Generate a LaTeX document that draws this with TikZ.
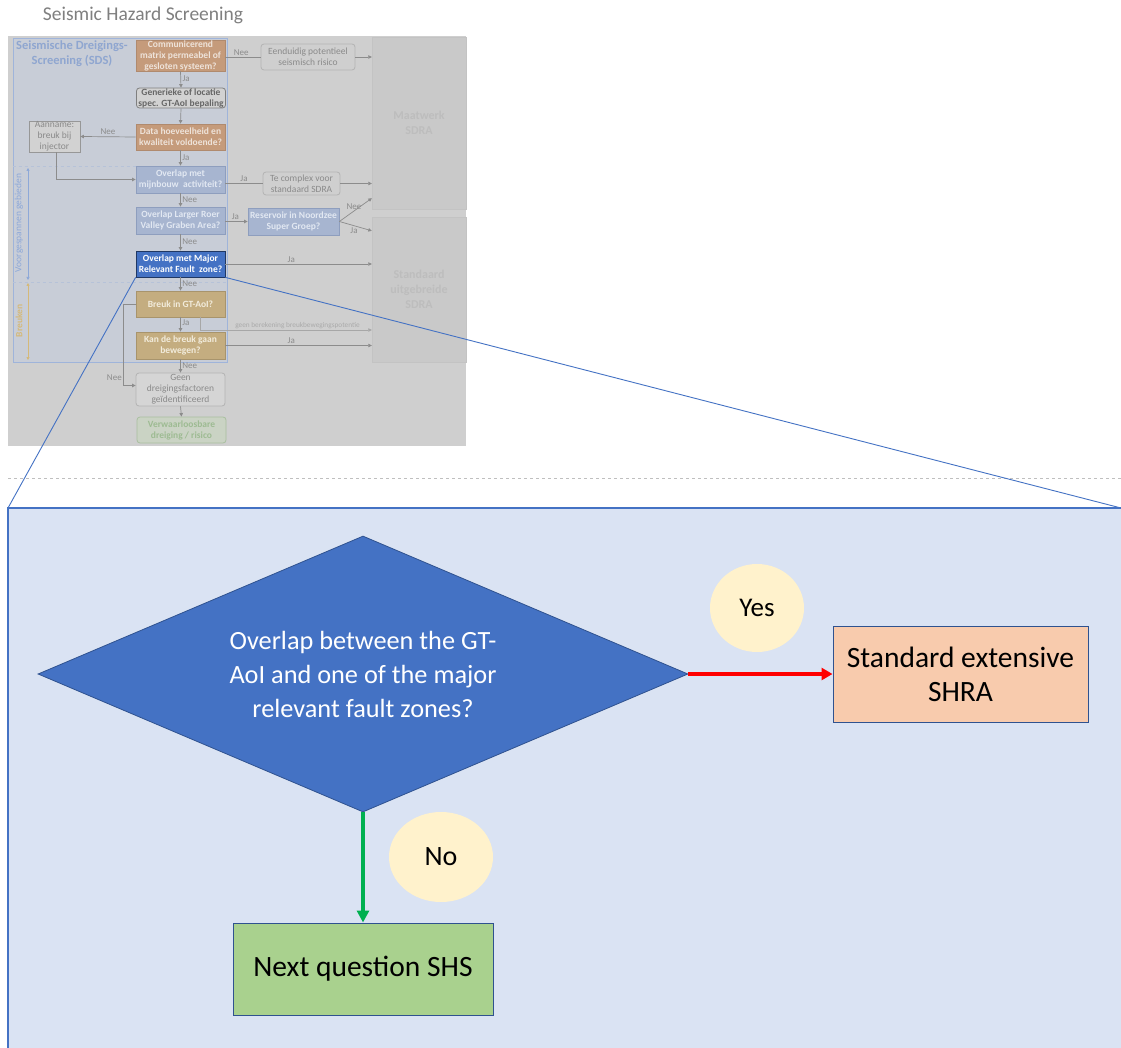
\documentclass[tikz,border=0pt]{standalone}
\usepackage{fontspec}
\setmainfont{Carlito}
\usetikzlibrary{shapes.geometric,arrows.meta}

% font size helper (size, baselineskip in pt)
\newcommand{\setfs}[2]{\fontsize{#1}{#2}\selectfont}

% overview panel colours (muted)
\definecolor{titlegray}{HTML}{7F7F7F}
\definecolor{thbg}{HTML}{CFCFCF}
\definecolor{sdsfill}{HTML}{C8CDD7}
\definecolor{sdsborder}{HTML}{9FB4DA}
\definecolor{sdstext}{HTML}{8FA6D0}
\definecolor{orfill}{HTML}{C59B7B}
\definecolor{orborder}{HTML}{B08A6E}
\definecolor{ortext}{HTML}{EEE3DA}
\definecolor{gbfill}{HTML}{D2D2D2}
\definecolor{gbborder}{HTML}{7F7F7F}
\definecolor{gbtext}{HTML}{666666}
\definecolor{bgfill}{HTML}{A7B5D0}
\definecolor{bgborder}{HTML}{8E9EBE}
\definecolor{bgtext}{HTML}{E2E8F2}
\definecolor{hlfill}{HTML}{4472C4}
\definecolor{hlborder}{HTML}{203864}
\definecolor{tanfill}{HTML}{C4AD80}
\definecolor{tanborder}{HTML}{A8946C}
\definecolor{tantext}{HTML}{F2ECDC}
\definecolor{ltfill}{HTML}{D5D5D5}
\definecolor{ltborder}{HTML}{B3B3B3}
\definecolor{lttext}{HTML}{8A8A8A}
\definecolor{grfill}{HTML}{CAD3C4}
\definecolor{grborder}{HTML}{A9BF9F}
\definecolor{grtext}{HTML}{9DBB92}
\definecolor{outfill}{HTML}{C9C9C9}
\definecolor{outborder}{HTML}{C3C3C3}
\definecolor{outtext}{HTML}{BDBDBD}
\definecolor{conngray}{HTML}{8C8C8C}
\definecolor{voorcol}{HTML}{8DA8D8}
\definecolor{breukcol}{HTML}{D5B979}
% detail panel colours
\definecolor{bigfill}{HTML}{DAE3F3}
\definecolor{bigborder}{HTML}{4472C4}
\definecolor{darkedge}{HTML}{2F528F}
\definecolor{yesfill}{HTML}{FFF2CC}
\definecolor{shrafill}{HTML}{F8CBAD}
\definecolor{nextfill}{HTML}{A9D18E}
\definecolor{noarrow}{HTML}{00B050}

\begin{document}
\begin{tikzpicture}[x=1pt,y=-1pt,
  tbox/.style={draw, line width=0.8pt, inner sep=0pt, align=center,
    minimum width=89pt, font=\setfs{9.5}{11}\bfseries},
  orbox/.style={tbox, fill=orfill, draw=orborder, text=ortext},
  bgbox/.style={tbox, fill=bgfill, draw=bgborder, text=bgtext},
  tanbox/.style={tbox, fill=tanfill, draw=tanborder, text=tantext},
  rbox/.style={tbox, rounded corners=3pt},
  outbox/.style={draw=outborder, fill=outfill, text=outtext, inner sep=0pt,
    align=center, font=\setfs{12}{15}\bfseries},
  conn/.style={draw=conngray, line width=0.7pt},
  arr/.style={conn, -{Triangle[length=3.5pt,width=3.5pt]}},
  lbl/.style={text=conngray, font=\setfs{9}{10}, inner sep=1.5pt},
  zoomline/.style={draw=bigborder, line width=0.9pt},
  bigbox/.style={draw=darkedge, line width=1pt, inner sep=0pt, align=center,
    font=\setfs{29.5}{34}},
  bubble/.style={ellipse, fill=yesfill, inner sep=0pt},
]
\useasboundingbox (0,0) rectangle (1121,1048);
\fill[white] (0,0) rectangle (1121,1048);

% ---------------- overview panel ----------------
\node (title) [text=titlegray, font=\setfs{19.5}{23}] at (143,15) {Seismic Hazard Screening};

\node (thumb) [fill=thbg, minimum width=458pt, minimum height=410pt, inner sep=0pt] at (237,241) {};

\node (sds) [draw=sdsborder, fill=sdsfill, line width=0.8pt, minimum width=214pt,
  minimum height=324pt, inner sep=0pt] at (120,200) {};
\node (sdstitle) [text=sdstext, align=center, font=\setfs{12.5}{15}\bfseries] at (72,54)
  {Seismische Dreigings-\\Screening (SDS)};

% faint separators of the two zones
\draw[sdsborder!45!sdsfill, dashed, line width=0.5pt] (sds.west |- 0,166) -- (sds.east |- 0,166);
\draw[sdsborder!45!sdsfill, dashed, line width=0.5pt] (sds.west |- 0,282) -- (sds.east |- 0,282);

% outcome areas
\node (maat) [outbox, minimum width=94pt, minimum height=172pt] at (419,123)
  {Maatwerk\\SDRA};
\node (std) [outbox, minimum width=94pt, minimum height=145pt] at (419,289.5)
  {Standaard\\uitgebreide\\SDRA};

% question column
\node (c1) [orbox, minimum height=31pt] at (180.5,55.5)
  {Communicerend\\matrix permeabel of\\gesloten systeem?};
\node (c2) [rbox, fill=gbfill, draw=gbborder, text=gbtext, minimum height=20pt] at (181,98)
  {Generieke of locatie\\spec. GT-AoI bepaling};
\node (c3) [orbox, minimum height=26pt] at (180.5,137)
  {Data hoeveelheid en\\kwaliteit voldoende?};
\node (aan) [tbox, fill=gbfill, draw=gbborder!70!thbg, text=lttext, font=\setfs{9.5}{11},
  minimum width=51pt, minimum height=31pt] at (54.5,136.5)
  {Aanname:\\breuk bij\\injector};
\node (c4) [bgbox, minimum height=27pt] at (180.5,179.5)
  {Overlap met\\mijnbouw\ \ activiteit?};
\node (c5) [bgbox, minimum height=27pt] at (180.5,220.5)
  {Overlap Larger Roer\\Valley Graben Area?};
\node (c6) [tbox, fill=hlfill, draw=hlborder, text=white, minimum height=26pt] at (180.5,264)
  {Overlap met Major\\Relevant Fault\ \ zone?};
\node (c7) [tanbox, minimum height=26pt] at (180.5,304)
  {Breuk in GT-AoI?};
\node (c8) [tanbox, minimum height=27pt] at (180.5,345.5)
  {Kan de breuk gaan\\bewegen?};
\node (c9) [rbox, fill=ltfill, draw=ltborder, text=lttext, font=\setfs{9.5}{11},
  minimum height=33pt] at (180.5,389.5)
  {Geen\\dreigingsfactoren\\geïdentificeerd};
\node (c10) [rbox, fill=grfill, draw=grborder, text=grtext, minimum height=26pt] at (181.5,430)
  {Verwaarloosbare\\dreiging / risico};

% side column
\node (een) [rbox, fill=thbg, draw=ltborder, text=lttext, font=\setfs{9.5}{11},
  minimum width=94pt, minimum height=26pt] at (308,57)
  {Eenduidig potentieel\\seismisch risico};
\node (tec) [rbox, fill=thbg, draw=ltborder, text=lttext, font=\setfs{9.5}{11},
  minimum width=77pt, minimum height=23pt] at (301.5,183.5)
  {Te complex voor\\standaard SDRA};
\node (res) [bgbox, minimum width=91pt, minimum height=27pt] at (293.5,221.5)
  {Reservoir in Noordzee\\Super Groep?};

% connectors of the overview (yshift is in page direction: positive = up)
\draw[arr] (c1.south) -- node[lbl, right, pos=0.45] {Ja} (c2.north);
\draw[arr] (c2.south) -- (c3.north);
\draw[arr] (c3.west) -- node[lbl, above, pos=0.5] {Nee} (aan.east);
\draw[arr] (c3.south) -- node[lbl, right, pos=0.45] {Ja} (c4.north);
\draw[arr] ([xshift=2pt]aan.south) |- (c4.west);
\draw[arr] (c4.south) -- node[lbl, right, pos=0.45] {Nee} (c5.north);
\draw[arr] (c5.south) -- node[lbl, right, pos=0.45] {Nee} (c6.north);
\draw[arr] (c6.south) -- node[lbl, right, pos=0.45] {Nee} (c7.north);
\draw[arr] (c7.south) -- node[lbl, right, pos=0.4] {Ja} (c8.north);
\draw[arr] (c8.south) -- node[lbl, right, pos=0.45] {Nee} (c9.north);
\draw[arr] (c9.south) -- (c10.north);
\draw[arr] (c7.west) -- ++(-12,0) |- node[lbl, left, pos=0.45] {Nee} ([yshift=4pt]c9.west);

\draw[conn] (c1.east |- een.west) -- node[lbl, above, pos=0.45] {Nee} (een.west);
\draw[arr] (een.east) -- (een.east -| maat.west);
\draw[conn] (c4.east |- tec.west) -- node[lbl, above, pos=0.5] {Ja} (tec.west);
\draw[arr] (tec.east) -- (tec.east -| maat.west);
\draw[arr] (c5.east |- res.west) -- node[lbl, above, pos=0.45] {Ja} (res.west);
\draw[arr] (res.east) -- node[lbl, above, pos=0.45] {Nee} ([yshift=11pt]maat.south west);
\draw[arr] (res.east) -- node[lbl, below, pos=0.45] {Ja} ([yshift=-14pt]std.north west);
\draw[arr] (c6.east) -- node[lbl, above, pos=0.45] {Ja} (c6.east -| std.west);
\draw[arr, draw=conngray!60!thbg] ([xshift=20pt]c7.south) |- coordinate[pos=0.5] (gb)
  ([yshift=-40.5pt]std.west);
\node (gbl) [text=conngray!55!thbg, font=\setfs{7.3}{8}, inner sep=0pt, anchor=south]
  at ([xshift=97pt,yshift=1.5pt]gb) {geen berekening breukbewegingspotentie};
\draw[arr] (c8.east) -- node[lbl, above, pos=0.45] {Ja} (c8.east -| std.west);

% zone markers on the left
\coordinate (v1) at (28,168);
\coordinate (v2) at (28,280);
\coordinate (b1) at (28,283);
\coordinate (b2) at (28,360);
\draw[draw=voorcol, line width=0.6pt, {Triangle[length=3pt,width=3pt]}-{Triangle[length=3pt,width=3pt]}] (v1) -- (v2);
\draw[draw=breukcol, line width=0.6pt, {Triangle[length=3pt,width=3pt]}-{Triangle[length=3pt,width=3pt]}] (b1) -- (b2);
\node (voor) [rotate=90, text=voorcol, font=\setfs{9.5}{11}] at (19,223) {Voorgespannen gebieden};
\node (breuk) [rotate=90, text=breukcol, font=\setfs{9.5}{11}\bfseries] at (19,321) {Breuken};

% ---------------- separator and zoom lines ----------------
\draw[draw=black!25, dashed, line width=0.8pt] (8,478) -- (1121,478);
\coordinate (zl) at (8,508);
\coordinate (zr) at (1121,508);
\draw[zoomline] (c6.south west) -- (zl);
\draw[zoomline] (c6.south east) -- (zr);

% ---------------- detail panel ----------------
\fill[bigfill] (8,508) rectangle (1140,1060);
\draw[draw=bigborder, line width=2pt] (1140,508) -- (8,508) -- (8,1060);

\node (q) [diamond, fill=hlfill, draw=darkedge, line width=0.8pt, inner sep=0pt,
  minimum width=650pt, minimum height=276pt, aspect=2.355, text=white,
  align=center, font=\setfs{26.3}{34}] at (363,674)
  {Overlap between the GT-\\AoI and one of the major\\relevant fault zones?};

\node (shra) [bigbox, fill=shrafill, minimum width=255pt, minimum height=96pt] at (960.5,674)
  {Standard extensive\\SHRA};
\node (next) [bigbox, fill=nextfill, minimum width=260pt, minimum height=92pt] at (363,969)
  {Next question SHS};

\node (yes) [bubble, font=\setfs{27}{30}, minimum width=94pt, minimum height=88pt] at (757,608) {Yes};
\node (no) [bubble, font=\setfs{28}{30}, minimum width=104pt, minimum height=90pt] at (441,857) {No};

\draw[draw=red, line width=3.2pt, -{Triangle[length=11pt,width=12pt]}] (q.east) -- (shra.west);
\draw[draw=noarrow, line width=3.2pt, -{Triangle[length=12pt,width=12pt]}] (q.south) -- (next.north);

\end{tikzpicture}
\end{document}
